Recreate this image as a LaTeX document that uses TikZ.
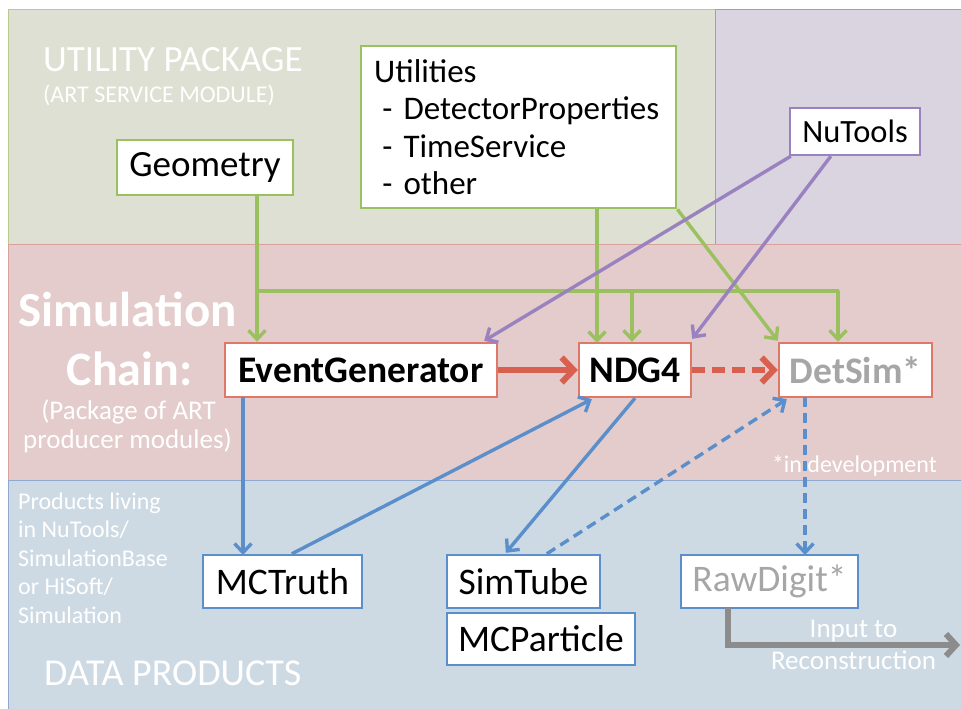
\documentclass[tikz,border=0pt]{standalone}
\usepackage{fontspec}
\setmainfont{Carlito}
\usetikzlibrary{arrows.meta,calc}

\definecolor{utilfill}{HTML}{DEE0D3}
\definecolor{utilline}{HTML}{B4CC8C}
\definecolor{nufill}{HTML}{DAD3E0}
\definecolor{nuline}{HTML}{A898C4}
\definecolor{simfill}{HTML}{E3CCCB}
\definecolor{simline}{HTML}{D9A09C}
\definecolor{datafill}{HTML}{CEDAE3}
\definecolor{dataline}{HTML}{8FA8D0}
\definecolor{gline}{HTML}{9BC060}
\definecolor{pline}{HTML}{9A82C0}
\definecolor{rline}{HTML}{D9604F}
\definecolor{bline}{HTML}{5A8FCB}
\definecolor{grayline}{HTML}{8C8C8C}
\definecolor{softgray}{HTML}{A6A6A6}

\tikzset{
  box/.style={draw, fill=white, line width=2.4pt, inner sep=0pt,
    font=\fontsize{37}{40}\selectfont},
  gbox/.style={box, draw=gline},
  pbox/.style={box, draw=pline},
  rbox/.style={box, draw=rline!85, font=\fontsize{37.5}{40}\selectfont\bfseries},
  bbox/.style={box, draw=bline, font=\fontsize{37.5}{40}\selectfont},
  bandlabel/.style={text=white, inner sep=0pt},
  thin link/.style={line width=3.4pt, -{Straight Barb[length=9pt,width=17pt]}},
  garrow/.style={thin link, draw=gline},
  parrow/.style={thin link, draw=pline},
  barrow/.style={thin link, draw=bline},
  rarrow/.style={draw=rline, line width=6pt, -{Straight Barb[length=12pt,width=25pt]}},
  grarrow/.style={draw=grayline, line width=6pt, -{Straight Barb[length=10pt,width=22pt]}},
}

\begin{document}
\begin{tikzpicture}[x=1pt,y=-1pt]
\useasboundingbox (0,0) rectangle (961,709);
\fill[white] (0,0) rectangle (961,709);

% background bands
\filldraw[fill=utilfill, draw=utilline, line width=1pt] (8,10) rectangle (715,244);
\filldraw[fill=nufill, draw=nuline, line width=1pt] (715,10) rectangle (975,244);
\filldraw[fill=simfill, draw=simline, line width=1pt] (8,244) rectangle (975,480);
\filldraw[fill=datafill, draw=dataline, line width=1pt] (8,480) rectangle (975,720);

% band captions
\node[bandlabel, anchor=base west, font=\fontsize{37}{40}\selectfont] at (43,72) {UTILITY PACKAGE};
\node[bandlabel, anchor=base west, font=\fontsize{24}{26}\selectfont] at (43,102) {(ART SERVICE MODULE)};
\node[bandlabel, anchor=base, font=\fontsize{49}{52}\selectfont\bfseries] at (127.5,326) {Simulation};
\node[bandlabel, anchor=base, font=\fontsize{48}{52}\selectfont\bfseries] at (129.5,385) {Chain:};
\node[bandlabel, anchor=base, font=\fontsize{27}{30}\selectfont] at (128.5,419) {(Package of ART};
\node[bandlabel, anchor=base, font=\fontsize{27}{30}\selectfont] at (127.5,448) {producer modules)};
\node[bandlabel, anchor=base east, font=\fontsize{24}{26}\selectfont] at (937,472) {*in development};
\begin{scope}[every node/.style={bandlabel, anchor=base west, font=\fontsize{24}{26}\selectfont}]
  \node at (18,509) {Products living};
  \node at (18,537.5) {in NuTools/};
  \node at (18,566) {SimulationBase};
  \node at (18,594.5) {or HiSoft/};
  \node at (18,623) {Simulation};
\end{scope}
\node[bandlabel, anchor=base west, font=\fontsize{38}{40}\selectfont] at (44,685) {DATA PRODUCTS};
\node[bandlabel, anchor=base, font=\fontsize{27}{30}\selectfont] at (853.5,637) {Input to};
\node[bandlabel, anchor=base, font=\fontsize{27}{30}\selectfont] at (853.5,669) {Reconstruction};

% utility services
\node[gbox, minimum width=176pt, minimum height=55pt] (geo) at (205,167.5) {Geometry};
\node[gbox, minimum width=315pt, minimum height=162pt, anchor=north west, align=left,
  text width=289pt, inner xsep=12pt, font=\fontsize{33}{37.5}\selectfont] (util) at (360,45)
  {Utilities\\\hspace*{0.25em}- DetectorProperties\\\hspace*{0.25em}- TimeService\\\hspace*{0.25em}- other};
\node[pbox, minimum width=130pt, minimum height=47pt, font=\fontsize{32.5}{36}\selectfont] (nutools) at (855,131.5) {NuTools};

% producer modules
\node[rbox, minimum width=272pt, minimum height=54pt] (evgen) at (361,370) {EventGenerator};
\node[rbox, minimum width=112pt, minimum height=54pt] (ndg4) at (635,370) {NDG4};
\node[rbox, minimum width=153pt, minimum height=54pt, text=softgray] (detsim) at (855.5,370) {DetSim*};

% data products
\node[bbox, minimum width=159pt, minimum height=53pt] (mctruth) at (282.5,581.5) {MCTruth};
\node[bbox, minimum width=153pt, minimum height=53pt] (simtube) at (523.5,581.5) {SimTube};
\node[bbox, minimum width=188pt, minimum height=52pt] (mcpart) at (541,639) {MCParticle};
\node[bbox, minimum width=177pt, minimum height=53pt, text=softgray] (rawdigit) at (769.5,581.5) {RawDigit*};

% green service links
\coordinate (gsplit) at (257,291);
\coordinate (gcorner) at (838,291);
\coordinate (gbranch) at (632,291);
\draw[garrow] (gsplit |- geo.south) -- (gsplit |- evgen.north);
\draw[draw=gline, line width=3.4pt, line cap=round] (gsplit) -- (gcorner);
\draw[garrow] (gcorner) -- (gcorner |- detsim.north);
\draw[garrow] (gbranch) -- (gbranch |- ndg4.north);
\draw[garrow] (597,207) -- (597,343);
\draw[garrow] (util.south east) -- ($(detsim.north west)+(0,-1)$);

% NuTools links
\draw[parrow] ($(nutools.south west)+(2,0)$) -- ($(evgen.north east)+(-14,-1)$);
\draw[parrow] ($(nutools.south west)+(42,0)$) -- ($(ndg4.north east)+(0,-3)$);

% simulation chain
\draw[rarrow] (evgen.east) -- (ndg4.west);
\draw[rarrow, dash pattern=on 13pt off 7pt] (ndg4.east) -- (detsim.west);

% produced data
\draw[barrow] (243,397) -- (243,555);
\draw[barrow] ($(mctruth.north west)+(90,0)$) -- ($(ndg4.south west)+(14,1)$);
\draw[barrow] (ndg4.south) -- ($(simtube.north west)+(60,-1)$);
\draw[barrow, dash pattern=on 10pt off 6pt] ($(simtube.north west)+(101,0)$) -- ($(detsim.south west)+(9,1)$);
\draw[barrow, dash pattern=on 10pt off 6pt] (805,397) -- (805,555);

% output towards reconstruction
\coordinate (recoexit) at (960,645);
\draw[grarrow] (728,608) -- (728,645) -- (recoexit);
\end{tikzpicture}
\end{document}
